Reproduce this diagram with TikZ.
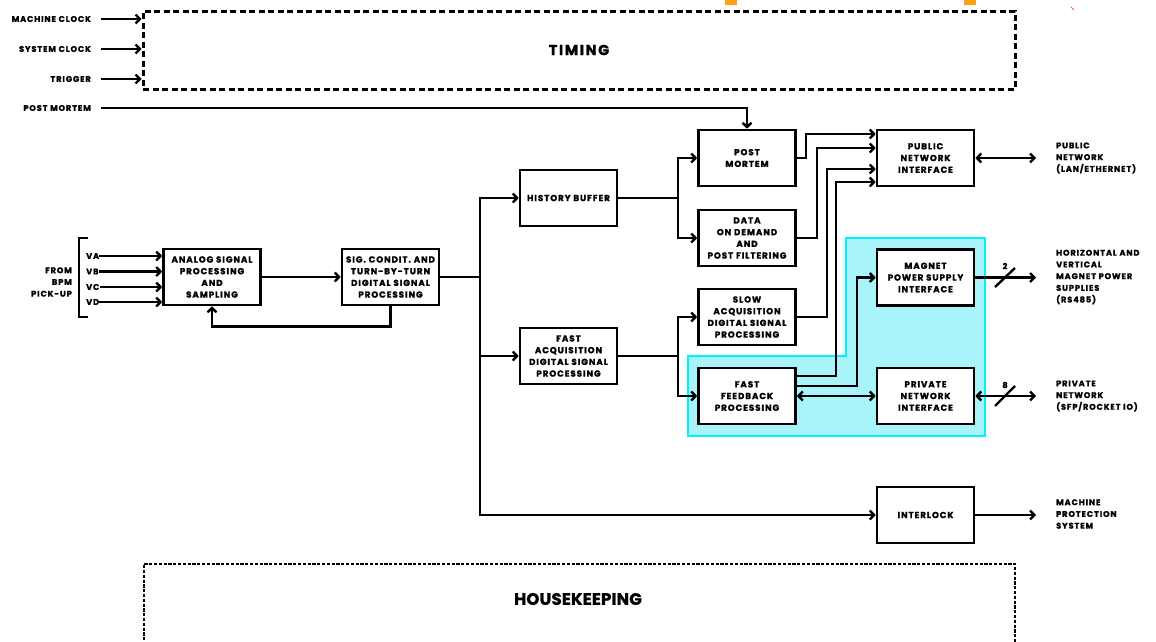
\documentclass[tikz,border=0pt]{standalone}
\usepackage{fontspec}
\newfontfamily\gfont{Poppins}[LetterSpace=11,BoldFeatures={FakeBold=1.6}]
\newfontfamily\hfont{Poppins}[LetterSpace=1,BoldFeatures={FakeBold=1.2}]
\usetikzlibrary{arrows.meta}
\newcommand\blkfont{\gfont\bfseries\fontsize{8.7}{11.7}\selectfont}
\newcommand\lblfont{\gfont\bfseries\fontsize{8.2}{11.7}\selectfont}
\newcommand\bigfont{\gfont\bfseries\fontsize{14.5}{16}\selectfont}
\newcommand\hkfont{\hfont\bfseries\fontsize{16.6}{18}\selectfont}
\definecolor{cyanfill}{RGB}{168,244,250}
\definecolor{cyanedge}{RGB}{0,240,252}
\definecolor{orangemark}{RGB}{255,160,20}
\begin{document}
\begin{tikzpicture}[x=1pt,y=-1pt,
  blk/.style={draw,fill=white,line width=2.6pt,minimum width=97pt,minimum height=56pt,align=center,font=\blkfont,inner sep=1pt},
  ln/.style={line width=2.4pt},
  tip/.tip={Straight Barb[length=4.3pt,width=9pt]},
  arr/.style={ln,-tip},
  darr/.style={ln,tip-tip},
  lbl/.style={font=\lblfont,align=left,anchor=west,inner sep=0pt},
  lblr/.style={font=\lblfont,align=right,anchor=east,inner sep=0pt},
  tdash/.style={line width=3pt,dash pattern=on 6pt off 3.5pt},
  hdash/.style={line width=2.4pt,dash pattern=on 3.2pt off 1.6pt},
]
\useasboundingbox (0,0) rectangle (1156,641);
% stray marks
\fill[orangemark] (725,0) rectangle (737,5);
\fill[orangemark] (964,0) rectangle (976,5);
\draw[red!70,line width=0.8pt] (1071,7) -- (1074,10);

% highlighted region
\draw[cyanedge,fill=cyanfill,line width=2.8pt]
  (688,356) -- (846,356) -- (846,238) -- (985,238) -- (985,436) -- (688,436) -- cycle;

% timing
\node[draw,tdash,minimum width=872pt,minimum height=78pt,font=\bigfont] (timing) at (579,50) {TIMING};
\node[lblr] (mc) at (91,19) {MACHINE CLOCK};
\node[lblr] (sc) at (91,49) {SYSTEM CLOCK};
\node[lblr] (tr) at (91,79) {TRIGGER};
\node[lblr] (pmin) at (91,108) {POST MORTEM};
\draw[arr] ([xshift=10pt]mc.east) -- (mc -| timing.west);
\draw[arr] ([xshift=10pt]sc.east) -- (sc -| timing.west);
\draw[arr] ([xshift=10pt]tr.east) -- (tr -| timing.west);

% blocks
\node[blk] (analog) at (212,277) {ANALOG SIGNAL\\PROCESSING\\AND\\SAMPLING};
\node[blk] (sig) at (390.5,277) {SIG. CONDIT. AND\\TURN-BY-TURN\\DIGITAL SIGNAL\\PROCESSING};
\node[blk] (hist) at (568.5,198) {HISTORY BUFFER};
\node[blk] (fast) at (568.5,356) {FAST\\ACQUISITION\\DIGITAL SIGNAL\\PROCESSING};
\node[blk] (pm) at (747,158) {POST\\MORTEM};
\node[blk] (dod) at (747,238) {DATA\\ON DEMAND\\AND\\POST FILTERING};
\node[blk] (slow) at (747,317) {SLOW\\ACQUISITION\\DIGITAL SIGNAL\\PROCESSING};
\node[blk] (ff) at (747,396) {FAST\\FEEDBACK\\PROCESSING};
\node[blk] (pub) at (925.5,158) {PUBLIC\\NETWORK\\INTERFACE};
\node[blk] (mag) at (925.5,277.5) {MAGNET\\POWER SUPPLY\\INTERFACE};
\node[blk] (priv) at (925.5,396) {PRIVATE\\NETWORK\\INTERFACE};
\node[blk] (intl) at (925.5,515) {INTERLOCK};

\draw[arr] ([xshift=10pt]pmin.east) -| (pm.north);

% inputs
\draw[ln] (88,238) -- (79,238) -- (79,317) -- (88,317);
\node[lblr] (from) at (72,282) {FROM\\BPM\\PICK-UP};
\node[lbl] (va) at (86,256) {VA};
\node[lbl] (vb) at (86,271.5) {VB};
\node[lbl] (vc) at (86,287) {VC};
\node[lbl] (vd) at (86,302) {VD};
\draw[arr] (va.east) -- (va -| analog.west);
\draw[arr] (vb.east) -- (vb -| analog.west);
\draw[arr] (vc.east) -- (vc -| analog.west);
\draw[arr] (vd.east) -- (vd -| analog.west);

\draw[arr] (analog) -- (sig);
\draw[arr] (sig.south) -- ++(0,20) -| (analog.south);

% bus
\coordinate (b1) at (480,277);
\draw[ln] (sig.east) -- (b1);
\draw[arr] (b1) |- (hist.west);
\draw[arr] (b1) |- (fast.west);
\draw[arr] (b1) |- (intl.west);

\coordinate (h1) at (678,198);
\draw[ln] (hist.east) -- (h1);
\draw[arr] (h1) |- (pm.west);
\draw[arr] (h1) |- (dod.west);

\coordinate (f1) at (678,356);
\draw[ln] (fast.east) -- (f1);
\draw[arr] (f1) |- (slow.west);
\draw[arr] (f1) |- (ff.west);

% to public network
\draw[arr] (pm.east) -| (806,134) -- (pub.west |- 0,134);
\draw[arr] (dod.east) -| (817,148) -- (pub.west |- 0,148);
\draw[arr] (slow.east) -| (827,169) -- (pub.west |- 0,169);
\draw[arr] (ff.east |- 0,376) -| (836,182) -- (pub.west |- 0,182);
\draw[arr] (ff.east |- 0,386) -| (857,277.5) -- (mag.west);
\draw[darr] (ff.east) -- (priv.west);

% outputs
\node[lbl] (publ) at (1056,158) {PUBLIC\\NETWORK\\(LAN/ETHERNET)};
\node[lbl] (magl) at (1056,277) {HORIZONTAL AND\\VERTICAL\\MAGNET POWER\\SUPPLIES\\(RS485)};
\node[lbl] (privl) at (1056,396) {PRIVATE\\NETWORK\\(SFP/ROCKET IO)};
\node[lbl] (mpsl) at (1056,514) {MACHINE\\PROTECTION\\SYSTEM};
\draw[darr] (pub.east) -- ([xshift=-20pt]publ.west |- pub.east);
\draw[arr] (mag.east) -- ([xshift=-20pt]magl.west |- mag.east);
\draw[darr] (priv.east) -- ([xshift=-20pt]privl.west |- priv.east);
\draw[arr] (intl.east) -- ([xshift=-20pt]mpsl.west |- intl.east);
\draw[ln] (995,287) -- (1015,268);
\node[font=\lblfont,inner sep=0pt] (n2) at (1005,266) {2};
\draw[ln] (995,406) -- (1015,386);
\node[font=\lblfont,inner sep=0pt] (n8) at (1005,385) {8};

% housekeeping
\draw[hdash] (144,650) -- (144,564) -- (1015,564) -- (1015,650);
\node[font=\hkfont] (hk) at (578,599) {HOUSEKEEPING};
\end{tikzpicture}
\end{document}
